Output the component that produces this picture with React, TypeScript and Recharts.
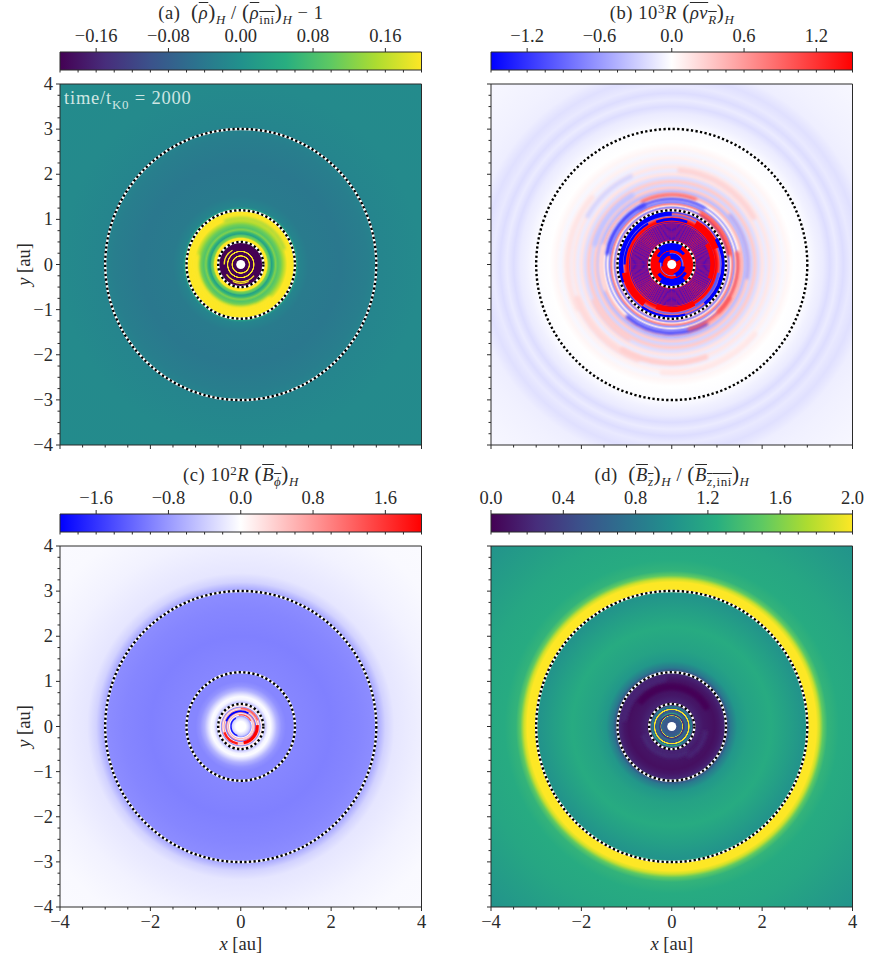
import React from 'react';
import { ScatterChart, Scatter, XAxis, YAxis, ReferenceArea } from 'recharts';

// radial profiles: [radius in au, field value]
const PROFILE_A = [[0, -0.2], [0.17, -0.2], [0.18, 0.2], [0.2, 0.2], [0.21, -0.2], [0.27, -0.2], [0.28, 0.2], [0.3, 0.2], [0.31, -0.2], [0.5, -0.2], [0.51, 0.2], [0.58, 0.2], [0.61, 0.12], [0.65, 0.09], [0.68, 0.03], [0.72, 0.06], [0.77, 0.12], [0.82, 0.09], [0.88, 0.11], [0.93, 0.14], [0.98, 0.17], [1.03, 0.2], [1.16, 0.2], [1.2, 0.17], [1.24, 0.02], [1.28, -0.02], [1.5, -0.035], [2.2, -0.04], [2.8, -0.03], [3.1, -0.02], [4, -0.012], [5.66, -0.01]];
const PROFILE_B = [[0, 1.5], [0.2, 1.5], [0.21, -1.5], [0.25, -0.8], [0.27, 1.5], [0.31, 1.5], [0.32, -1.5], [0.38, -1.5], [0.39, 1.5], [0.5, 1.5], [0.51, -1.5], [0.53, 1.3], [0.95, 1.3], [0.98, 1.5], [1.02, 1.3], [1.05, 1.0], [1.08, -0.9], [1.12, 0.9], [1.15, -1.1], [1.19, 0.6], [1.22, 0.5], [1.27, -0.7], [1.3, 0.2], [1.34, 0.7], [1.38, -0.6], [1.42, 0.1], [1.46, -0.5], [1.5, 0.1], [1.56, 0.38], [1.62, -0.38], [1.7, 0.3], [1.76, -0.25], [1.84, 0.3], [1.92, -0.2], [2, 0.16], [2.08, -0.12], [2.16, 0.14], [2.26, -0.09], [2.36, 0.08], [2.46, -0.05], [2.56, 0.05], [2.7, 0], [2.9, -0.01], [3, -0.02], [3.2, -0.08], [3.35, -0.12], [3.5, -0.2], [3.65, -0.12], [3.8, -0.2], [3.95, -0.13], [4.15, -0.18], [4.4, -0.1], [4.7, -0.08], [5.66, -0.05]];
const PROFILE_C = [[0, 0], [0.11, 0], [0.16, -0.2], [0.2, -0.4], [0.23, -0.8], [0.25, 0], [0.27, 0.6], [0.29, -0.2], [0.31, 0.9], [0.33, -1.2], [0.35, 0.2], [0.37, 0.8], [0.39, -0.1], [0.41, 0.6], [0.43, -0.9], [0.45, -0.1], [0.47, 0.4], [0.5, -0.3], [0.51, -0.7], [0.55, -0.35], [0.6, -0.08], [0.66, -0.03], [0.72, -0.25], [0.8, -0.6], [0.9, -0.85], [1.0, -0.95], [1.3, -0.95], [2, -1], [2.6, -0.95], [2.95, -0.9], [3.05, -0.65], [3.2, -0.35], [3.4, -0.2], [3.8, -0.15], [4.2, -0.1], [5, -0.05], [5.66, -0.04]];
const PROFILE_D = [[0, 0.5], [0.1, 0.5], [0.2, 0.6], [0.23, 0.7], [0.24, 2], [0.255, 0.2], [0.3, 0.7], [0.36, 0.5], [0.37, 2], [0.39, 2], [0.4, 0.6], [0.44, 0.9], [0.47, 0.3], [0.5, 0.5], [0.51, 0.1], [0.55, 0.2], [0.7, 0.12], [0.8, 0.1], [0.95, 0.08], [1.05, 0.12], [1.15, 0.2], [1.2, 0.4], [1.3, 0.8], [1.45, 1.05], [1.7, 1.15], [2.2, 1.22], [2.6, 1.12], [2.95, 1.02], [3.0, 1.35], [3.02, 2], [3.2, 2], [3.27, 1.85], [3.35, 1.5], [3.45, 1.3], [3.7, 1.22], [4.3, 1.18], [5.66, 1.02]];

// partial arcs: [inner r, outer r, from deg, to deg, field value]
const ARCS_A = [[0.37, 0.4, 215, 320, 0.2], [0.4, 0.43, 245, 295, 0.2], [0.35, 0.38, 120, 180, 0.2]];
const SOFT_A = [[0.93, 1.05, 170, 310, 0.2], [1.0, 1.05, 20, 110, 0.13]];
const ARCS_B = [
  // fine full rings between the two inner circles
  [0.545, 0.56, 0, 359.9, -1.5], [0.57, 0.585, 0, 359.9, -1.5], [0.595, 0.61, 0, 359.9, -1.5], [0.62, 0.635, 0, 359.9, -1.5],
  [0.645, 0.66, 0, 359.9, -1.5], [0.67, 0.685, 0, 359.9, -1.5], [0.695, 0.71, 0, 359.9, -1.5], [0.72, 0.735, 0, 359.9, -1.5],
  [0.745, 0.76, 0, 359.9, -1.5], [0.77, 0.785, 0, 359.9, -1.5], [0.795, 0.81, 0, 359.9, -1.5], [0.82, 0.835, 0, 359.9, -1.5],
  [0.845, 0.86, 0, 359.9, -1.5], [0.87, 0.885, 0, 359.9, -1.5], [0.895, 0.91, 0, 359.9, -1.5], [0.93, 0.945, 0, 359.9, -1.5],
  [0.96, 1.12, 20, 60, 1.5], [1.1, 1.18, -20, 30, -1.5], [1.08, 1.19, 90, 200, -1.5], [0.97, 1.03, 70, 110, -1.5],
  [0.98, 1.12, 190, 235, 1.5], [0.93, 1.05, 250, 300, 1.5], [1.12, 1.2, 235, 285, -1.5], [0.85, 0.95, -20, 30, 1.5],
  [1.1, 1.2, -50, -15, -1.5], [1.02, 1.07, 120, 180, -1.5], [1.02, 1.07, 300, 350, -1],
  [0.36, 0.5, 60, 130, -1.5], [0.3, 0.48, 150, 215, 1.5], [0.34, 0.5, 235, 310, -1.5], [0.28, 0.46, -30, 40, 1.5],
  [0.12, 0.24, 30, 100, -1.5], [0.14, 0.24, 190, 280, 1.5], [0.2, 0.3, 100, 170, -1.5], [0.2, 0.3, 290, 350, -1.5],
];
const SOFT_B = [
  [1.5, 1.57, 70, 115, 0.9], [1.4, 1.47, 60, 120, -1], [1.4, 1.5, 115, 170, -1.1],
  [1.25, 1.33, 10, 60, 1.2], [1.42, 1.52, -45, 10, 0.9], [1.65, 1.73, -10, 40, -0.5], [1.47, 1.56, 230, 300, -1.1],
  [1.45, 1.52, 285, 330, 1.0], [2.03, 2.15, 30, 85, 0.25], [2.1, 2.2, 115, 150, -0.25], [2.24, 2.36, 140, 205, 0.16],
  [1.52, 1.62, 165, 200, 0.22], [2.15, 2.3, 200, 250, 0.22], [2.12, 2.24, 240, 290, 0.28], [2.34, 2.46, 265, 320, 0.14],
  [1.7, 1.82, 120, 165, -0.35], [1.85, 1.95, 205, 240, 0.3],
];
const ARCS_C = [[0.33, 0.4, -80, 5, 2], [0.36, 0.41, 200, 260, 1.8], [0.32, 0.36, 60, 160, -2], [0.38, 0.42, 20, 90, 1.2], [0.26, 0.29, 280, 30, 0.4], [0.2, 0.23, 120, 250, -1.8], [0.24, 0.27, 30, 100, 1.4]];
const ARCS_D = [[0.28, 0.3, 40, 140, 1.3], [0.42, 0.44, 200, 300, 1.3]];
const SOFT_D = [[0.8, 0.95, 30, 140, 0.02], [0.6, 0.7, 200, 300, 0.22], [1.0, 1.15, 100, 170, 0.2], [0.7, 0.8, 300, 350, 0.2]];

const RINGS = [3, 1.2, 0.5];
const HOLE = [0.1];

const X_TICKS = [-4, -3.5, -3, -2.5, -2, -1.5, -1, -0.5, 0, 0.5, 1, 1.5, 2, 2.5, 3, 3.5, 4];
const X_LABELS = [-4, -2, 0, 2, 4];
const Y_TICKS = [-4, -3.75, -3.5, -3.25, -3, -2.75, -2.5, -2.25, -2, -1.75, -1.5, -1.25, -1, -0.75, -0.5, -0.25, 0, 0.25, 0.5, 0.75, 1, 1.25, 1.5, 1.75, 2, 2.25, 2.5, 2.75, 3, 3.25, 3.5, 3.75, 4];
const Y_LABELS = [-4, -3, -2, -1, 0, 1, 2, 3, 4];

const CB_TICKS_A = [-0.16, -0.08, 0, 0.08, 0.16];
const CB_TICKS_B = [-1.2, -0.6, 0, 0.6, 1.2];
const CB_TICKS_C = [-1.6, -0.8, 0, 0.8, 1.6];
const CB_TICKS_D = [0, 0.4, 0.8, 1.2, 1.6, 2];

const VIRIDIS = ['#440154', '#472d7b', '#3b528b', '#2c728e', '#21918c', '#28ae80', '#5ec962', '#addc30', '#fde725'];
const BWR = ['#0000ff', '#ffffff', '#ff0000'];

const FONT = '"Liberation Serif", serif';
const INK = '#2a2a2a';
const PLOT_W = 361.5;
const PLOT_H = 361;
const PX_PER_AU = PLOT_W / 8;
const CENTER_X = 60 + PLOT_W / 2;

const minus = (s: string) => s.replace('-', '\u2212');

function colorAt(map: string[], t: number) {
  const p = Math.max(0, Math.min(1, t)) * (map.length - 1);
  const i = Math.min(Math.floor(p), map.length - 2);
  const f = p - i;
  const ch = (c: string, k: number) => parseInt(c.slice(1 + k * 2, 3 + k * 2), 16);
  const mix = (k: number) => Math.round(ch(map[i], k) * (1 - f) + ch(map[i + 1], k) * f);
  return `rgb(${mix(0)},${mix(1)},${mix(2)})`;
}

const Nothing = () => <g />;

function Colorbar({ id, left, top, map, min, max, step, ticks, digits }: any) {
  const minor: number[] = [];
  const n = Math.round((max - min) / step);
  for (let i = 0; i <= n; i++) minor.push(min + i * step);
  const ends = [{ x: min, y: 0 }, { x: max, y: 1 }];
  return (
    <div style={{ position: 'absolute', left, top }}>
      <ScatterChart width={440} height={70} margin={{ top: 0, right: 18.5, bottom: 0, left: 60 }}>
        <defs>
          <linearGradient id={id}>
            {map.map((c: string, i: number) => (
              <stop key={i} offset={i / (map.length - 1)} stopColor={c} />
            ))}
          </linearGradient>
        </defs>
        <XAxis
          xAxisId="major" dataKey="x" orientation="top" type="number" domain={[min, max]} ticks={ticks} interval={0} height={32}
          axisLine={false} tickLine={false} tickSize={0} tickMargin={0}
          tick={(p: any) => (
            <g>
              <line x1={p.x} x2={p.x} y1={p.y} y2={p.y - 4} stroke={INK} />
              <text x={p.x} y={p.y - 10} textAnchor="middle" fontFamily={FONT} fontSize={18.5} fill={INK}>
                {minus(p.payload.value.toFixed(digits))}
              </text>
            </g>
          )}
        />
        <XAxis
          xAxisId="minor" dataKey="x" orientation="bottom" type="number" domain={[min, max]} ticks={minor} interval={0} height={20}
          axisLine={false} tickLine={false} tickSize={0} tickMargin={0}
          tick={(p: any) => <line x1={p.x} x2={p.x} y1={p.y} y2={p.y + 2.5} stroke={INK} />}
        />
        <YAxis hide dataKey="y" type="number" domain={[0, 1]} />
        <ReferenceArea xAxisId="major" x1={min} x2={max} y1={0} y2={1} fill={`url(#${id})`} fillOpacity={1} stroke={INK} strokeWidth={1} ifOverflow="visible" />
        <Scatter xAxisId="major" data={ends} shape={Nothing} isAnimationActive={false} />
        <Scatter xAxisId="minor" data={ends} shape={Nothing} isAnimationActive={false} />
      </ScatterChart>
    </div>
  );
}

const arcPath = (props: any) => {
  const { cx, cy, payload } = props;
  const r = cx - CENTER_X;
  const a0 = (payload.from * Math.PI) / 180;
  const a1 = (payload.to * Math.PI) / 180;
  const span = ((payload.to - payload.from) % 360 + 360) % 360;
  const large = span > 180 ? 1 : 0;
  return `M${CENTER_X + r * Math.cos(a0)} ${cy - r * Math.sin(a0)} A${r} ${r} 0 ${large} 0 ${CENTER_X + r * Math.cos(a1)} ${cy - r * Math.sin(a1)}`;
};

const Arc = (props: any) => (
  <path d={arcPath(props)} fill="none" stroke={props.payload.color} strokeWidth={props.payload.thick * PX_PER_AU} />
);

const SoftArc = (props: any) => (
  <path d={arcPath(props)} fill="none" stroke={props.payload.color} strokeWidth={props.payload.thick * PX_PER_AU} strokeLinecap="round" filter="url(#arc-soft)" />
);

const DottedRing = (props: any) => {
  const r = props.cx - CENTER_X;
  return (
    <g>
      <circle cx={CENTER_X} cy={props.cy} r={r} fill="none" stroke="#fff" strokeWidth={2.4} />
      <circle cx={CENTER_X} cy={props.cy} r={r} fill="none" stroke="#000" strokeWidth={2.4} strokeDasharray="2.3 2.3" />
    </g>
  );
};

const HoleDisc = (props: any) => <circle cx={CENTER_X} cy={props.cy} r={props.cx - CENTER_X} fill="#fff" />;

function Panel({ id, left, top, map, min, max, profile, arcs, soft = [], showX, showY }: any) {
  const tone = (v: number) => colorAt(map, (v - min) / (max - min));
  const toArc = (a: number[]) => ({
    x: (a[0] + a[1]) / 2, y: 0, thick: a[1] - a[0], from: a[2], to: a[3], color: tone(a[4]),
  });
  const ringData = RINGS.map((r) => ({ x: r, y: 0 }));
  const holeData = HOLE.map((r) => ({ x: r, y: 0 }));
  const height = 12 + PLOT_H + (showX ? 55 : 20);
  return (
    <div style={{ position: 'absolute', left, top }}>
      <ScatterChart width={431} height={height} margin={{ top: 12, right: 9.5, bottom: 0, left: 0 }}>
        <defs>
          <radialGradient id={id} cx="0.5" cy="0.5" r="0.7071">
            {profile.map((s: number[], i: number) => (
              <stop key={i} offset={s[0] / 5.66} stopColor={tone(s[1])} />
            ))}
          </radialGradient>
        </defs>
        <XAxis
          dataKey="x" type="number" domain={[-4, 4]} ticks={X_TICKS} interval={0} height={showX ? 55 : 20}
          axisLine={false} tickLine={false} tickSize={0} tickMargin={0} allowDataOverflow
          tick={(p: any) => {
            const major = X_LABELS.includes(p.payload.value);
            return (
              <g>
                <line x1={p.x} x2={p.x} y1={p.y} y2={p.y + (major ? 4 : 2.5)} stroke={INK} />
                {showX && major && (
                  <text x={p.x} y={p.y + 21} textAnchor="middle" fontFamily={FONT} fontSize={18.5} fill={INK}>
                    {minus(String(p.payload.value))}
                  </text>
                )}
              </g>
            );
          }}
          label={showX ? () => (
            <text x={CENTER_X} y={12 + PLOT_H + 43} textAnchor="middle" fontFamily={FONT} fontSize={18.5} fill={INK}>
              <tspan fontStyle="italic">x</tspan> [au]
            </text>
          ) : undefined}
        />
        <YAxis
          dataKey="y" type="number" domain={[-4, 4]} ticks={Y_TICKS} interval={0} width={60}
          axisLine={false} tickLine={false} tickSize={0} tickMargin={0} allowDataOverflow
          tick={(p: any) => {
            const major = Y_LABELS.includes(p.payload.value);
            return (
              <g>
                <line x1={p.x} x2={p.x - (major ? 4 : 2.5)} y1={p.y} y2={p.y} stroke={INK} />
                {showY && major && (
                  <text x={p.x - 7} y={p.y + 6} textAnchor="end" fontFamily={FONT} fontSize={18.5} fill={INK}>
                    {minus(String(p.payload.value))}
                  </text>
                )}
              </g>
            );
          }}
          label={showY ? () => (
            <text transform={`translate(30 ${12 + PLOT_H / 2}) rotate(-90)`} textAnchor="middle" fontFamily={FONT} fontSize={18.5} fill={INK}>
              <tspan fontStyle="italic">y</tspan> [au]
            </text>
          ) : undefined}
        />
        <ReferenceArea x1={-4} x2={4} y1={-4} y2={4} fill={`url(#${id})`} fillOpacity={1} stroke={INK} strokeWidth={1} />
        <Scatter data={soft.map(toArc)} shape={SoftArc} isAnimationActive={false} />
        <Scatter data={arcs.map(toArc)} shape={Arc} isAnimationActive={false} />
        <Scatter data={holeData} shape={HoleDisc} isAnimationActive={false} />
        <Scatter data={ringData} shape={DottedRing} isAnimationActive={false} />
      </ScatterChart>
    </div>
  );
}

const sub: React.CSSProperties = { fontSize: '0.7em', verticalAlign: '-0.35em', lineHeight: 0 };
const over: React.CSSProperties = { textDecoration: 'overline' };
const sup: React.CSSProperties = { fontSize: '0.7em', verticalAlign: '0.5em', lineHeight: 0 };
const I = ({ children }: any) => <i>{children}</i>;
const Paren = ({ children }: any) => <span style={{ fontSize: '1.15em', lineHeight: 0 }}>{children}</span>;

function Title({ center, top, children }: any) {
  return (
    <div style={{ position: 'absolute', left: center, top, transform: 'translateX(-50%)', whiteSpace: 'pre', fontFamily: FONT, fontSize: 18.5, letterSpacing: 0.6, lineHeight: '22px', color: INK }}>
      {children}
    </div>
  );
}

export default function App() {
  return (
    <div style={{ position: 'absolute', left: 0, top: 0, width: 871, height: 962, overflow: 'hidden', background: '#fff' }}>
      <svg width={0} height={0} style={{ position: 'absolute' }}>
        <defs>
          <filter id="arc-soft" filterUnits="userSpaceOnUse" x={0} y={0} width={431} height={430}>
            <feGaussianBlur stdDeviation={1.6} />
          </filter>
        </defs>
      </svg>
      <Panel id="field-a" left={0} top={72} map={VIRIDIS} min={-0.2} max={0.2} profile={PROFILE_A} arcs={ARCS_A} soft={SOFT_A} showX={false} showY />
      <Panel id="field-b" left={431} top={72} map={BWR} min={-1.5} max={1.5} profile={PROFILE_B} arcs={ARCS_B} soft={SOFT_B} showX={false} showY={false} />
      <Panel id="field-c" left={0} top={534} map={BWR} min={-2} max={2} profile={PROFILE_C} arcs={ARCS_C} showX showY />
      <Panel id="field-d" left={431} top={534} map={VIRIDIS} min={0} max={2} profile={PROFILE_D} arcs={ARCS_D} soft={SOFT_D} showX showY={false} />

      <Colorbar id="bar-a" left={0} top={20} map={VIRIDIS} min={-0.2} max={0.2} step={0.02} ticks={CB_TICKS_A} digits={2} />
      <Colorbar id="bar-b" left={431} top={20} map={BWR} min={-1.5} max={1.5} step={0.15} ticks={CB_TICKS_B} digits={1} />
      <Colorbar id="bar-c" left={0} top={482} map={BWR} min={-2} max={2} step={0.2} ticks={CB_TICKS_C} digits={1} />
      <Colorbar id="bar-d" left={431} top={482} map={VIRIDIS} min={0} max={2} step={0.1} ticks={CB_TICKS_D} digits={1} />

      <Title center={241} top={2}>
        (a)  <Paren>(</Paren><span style={over}><I>ρ</I></span><Paren>)</Paren><span style={sub}><I>H</I></span> / <Paren>(</Paren><span style={over}><I>ρ</I><span style={sub}>ini</span></span><Paren>)</Paren><span style={sub}><I>H</I></span> − 1
      </Title>
      <Title center={672} top={2}>
        (b) 10<span style={sup}>3</span><I>R</I> <Paren>(</Paren><span style={over}><I>ρv</I><span style={sub}><I>R</I></span></span><Paren>)</Paren><span style={sub}><I>H</I></span>
      </Title>
      <Title center={241} top={464}>
        (c) 10<span style={sup}>2</span><I>R</I> <Paren>(</Paren><span style={over}><I>B</I><span style={sub}><I>ϕ</I></span></span><Paren>)</Paren><span style={sub}><I>H</I></span>
      </Title>
      <Title center={672} top={464}>
        (d)  <Paren>(</Paren><span style={over}><I>B</I><span style={sub}><I>z</I></span></span><Paren>)</Paren><span style={sub}><I>H</I></span> / <Paren>(</Paren><span style={over}><I>B</I><span style={sub}><I>z</I>,ini</span></span><Paren>)</Paren><span style={sub}><I>H</I></span>
      </Title>
      <div style={{ position: 'absolute', left: 64, top: 87, whiteSpace: 'pre', fontFamily: FONT, fontSize: 18.5, letterSpacing: 0.8, lineHeight: '22px', color: '#cfe6e3' }}>
        time/t<span style={sub}>K0</span> = 2000
      </div>
    </div>
  );
}
